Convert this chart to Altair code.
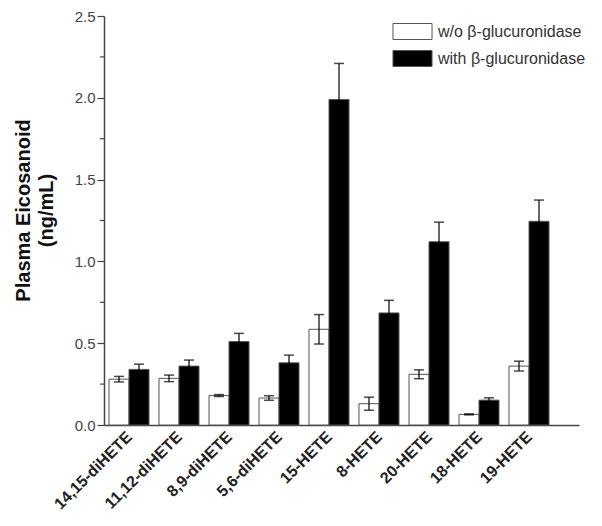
import json
import altair as alt
import pandas as pd

categories = ["14,15-diHETE", "11,12-diHETE", "8,9-diHETE", "5,6-diHETE",
              "15-HETE", "8-HETE", "20-HETE", "18-HETE", "19-HETE"]
without_vals = [0.28, 0.285, 0.18, 0.165, 0.585, 0.13, 0.31, 0.065, 0.36]
without_err = [0.017, 0.02, 0.006, 0.014, 0.09, 0.04, 0.027, 0.003, 0.03]
with_vals = [0.34, 0.36, 0.51, 0.38, 1.99, 0.685, 1.12, 0.152, 1.245]
with_err = [0.032, 0.037, 0.05, 0.047, 0.22, 0.077, 0.12, 0.014, 0.13]
series_names = ["w/o β-glucuronidase", "with β-glucuronidase"]
major_ticks = [0.0, 0.5, 1.0, 1.5, 2.0, 2.5]
minor_ticks = [0.25, 0.75, 1.25, 1.75, 2.25]

rows = []
for i, c in enumerate(categories):
    pos = i + 1
    for s, vals, errs, off in [(series_names[0], without_vals, without_err, -0.2),
                               (series_names[1], with_vals, with_err, 0.2)]:
        v = vals[i]
        e = errs[i]
        rows.append(dict(cat=c, series=s, value=v, lo=v - e, hi=v + e,
                         xc=pos + off, x0=pos + off - 0.2, x1=pos + off + 0.2))
df = pd.DataFrame(rows)

xs = alt.Scale(domain=[0.5, 10], nice=False, zero=False)
ys = alt.Scale(domain=[0, 2.5], nice=False)

xaxis = alt.Axis(values=list(range(1, 10)),
                 labelExpr=json.dumps(categories) + "[datum.value - 1]",
                 labelAngle=-45, labelAlign="right", labelBaseline="middle",
                 labelFontSize=16, labelFontWeight="bold", labelColor="#222",
                 ticks=False, labelPadding=9, grid=False, title=None,
                 labelOverlap=False, labelFlush=False,
                 domainColor="#444", domainWidth=1.5)

yaxis = alt.Axis(values=major_ticks, format=".1f", tickSize=7,
                 title=["Plasma Eicosanoid", "(ng/mL)"], titleFontSize=20,
                 titleFontWeight="bold", titleColor="#111", titleAngle=-90,
                 titleX=-91, titleY=194, titleAlign="center", titleBaseline="top",
                 titleLineHeight=23, labelFontSize=15, labelColor="#444",
                 labelPadding=2, grid=False, tickColor="#444", tickWidth=1.2,
                 domainColor="#444", domainWidth=1.5)

base = alt.Chart(df)

bars = base.mark_bar(stroke="#555", strokeWidth=1).encode(
    x=alt.X("x0:Q", scale=xs, axis=xaxis),
    x2="x1:Q",
    y=alt.Y("value:Q", scale=ys, axis=yaxis, stack=None),
    y2=alt.datum(0),
    fill=alt.Fill("series:N",
                  scale=alt.Scale(domain=series_names, range=["white", "black"]),
                  legend=alt.Legend(title=None, orient="none", legendX=300, legendY=7,
                                    symbolType="M-2.44,-1H2.44V1H-2.44Z", symbolSize=256,
                                    symbolStrokeColor="#555", symbolStrokeWidth=1,
                                    labelFontSize=16, labelColor="#333", labelOffset=17,
                                    rowPadding=6, padding=0)),
)

rules = base.mark_rule(color="black", strokeWidth=1.2).encode(
    x=alt.X("xc:Q", scale=xs), y=alt.Y("lo:Q", scale=ys), y2="hi:Q")
cap_hi = base.mark_tick(orient="horizontal", size=10, thickness=1.5, color="black").encode(
    x=alt.X("xc:Q", scale=xs), y=alt.Y("hi:Q", scale=ys))
cap_lo = base.mark_tick(orient="horizontal", size=10, thickness=1.5, color="black").encode(
    x=alt.X("xc:Q", scale=xs), y=alt.Y("lo:Q", scale=ys))

minor = alt.Chart(pd.DataFrame({"v": minor_ticks})).mark_rule(
    color="#444", strokeWidth=1.2).encode(
    y=alt.Y("v:Q", scale=ys), x=alt.value(-4), x2=alt.value(0))

chart = alt.layer(bars, rules, cap_hi, cap_lo, minor).properties(
    width=475, height=409,
    autosize=alt.AutoSizeParams(type="none"),
    padding={"left": 96, "top": 8, "right": 12, "bottom": 95},
).configure(font="Liberation Sans").configure_view(stroke=None)

chart.save("out.html", embed_options={"renderer": "svg", "actions": False})
